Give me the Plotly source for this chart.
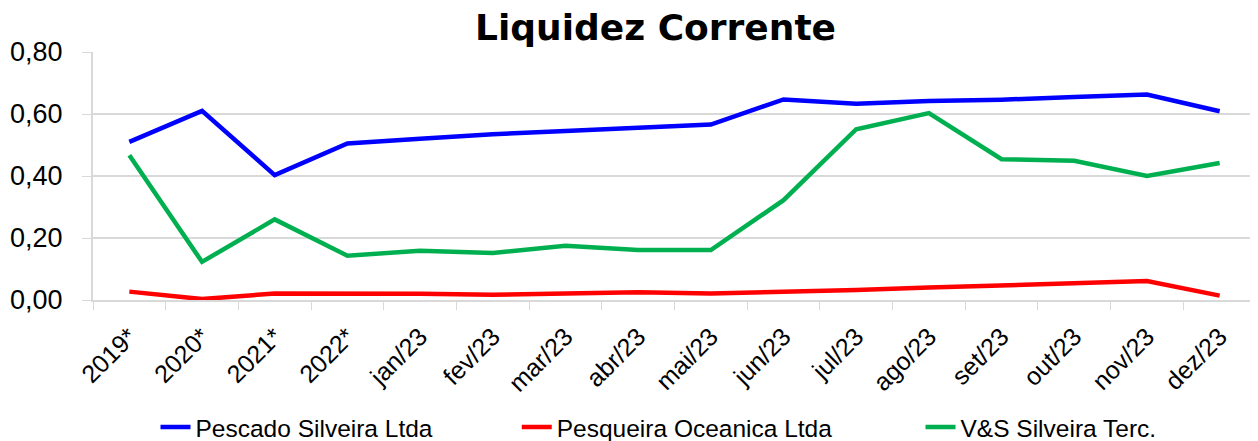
import plotly.graph_objects as go

categories = ["2019*", "2020*", "2021*", "2022*", "jan/23", "fev/23", "mar/23", "abr/23",
              "mai/23", "jun/23", "jul/23", "ago/23", "set/23", "out/23", "nov/23", "dez/23"]
pescado = [0.51, 0.61, 0.403, 0.505, 0.52, 0.535, 0.545, 0.555,
           0.566, 0.647, 0.633, 0.642, 0.646, 0.655, 0.663, 0.609]
pesqueira = [0.027, 0.003, 0.021, 0.021, 0.02, 0.017, 0.021, 0.025,
             0.021, 0.025, 0.032, 0.040, 0.048, 0.054, 0.061, 0.014]
vs_silveira = [0.467, 0.123, 0.26, 0.143, 0.159, 0.152, 0.175, 0.161,
               0.161, 0.322, 0.551, 0.603, 0.454, 0.449, 0.40, 0.442]
series_names = ["Pescado Silveira Ltda", "Pesqueira Oceanica Ltda", "V&S Silveira Terc."]
series_colors = ["#0000FF", "#FF0000", "#00B050"]
legend_ids = ["legend", "legend2", "legend3"]
legend_x = [0.118, 0.407, 0.730]

FONT = "Liberation Sans"
W, H = 1250, 433

fig = go.Figure()
for name, vals, col, lg in zip(series_names, [pescado, pesqueira, vs_silveira], series_colors, legend_ids):
    fig.add_trace(go.Scatter(x=categories, y=vals, name=name, mode="lines",
                             line=dict(color=col, width=4.5), legend=lg))

leg_common = dict(orientation="h", xref="container", yref="container",
                  xanchor="left", y=0.032, yanchor="middle",
                  font=dict(family=FONT, size=24.5, color="black"),
                  bgcolor="rgba(0,0,0,0)")
fig.update_layout(
    width=W, height=H,
    margin=dict(l=81, r=2, t=44, b=141),
    paper_bgcolor="white", plot_bgcolor="white",
    separators=",.",
    font=dict(family=FONT, size=22, color="black"),
    title=dict(text="<b>Liquidez Corrente</b>", x=0.518, xanchor="center",
               yref="container", y=0.955, yanchor="middle",
               font=dict(family="DejaVu Sans", size=36, color="black")),
    legend=dict(x=legend_x[0], **leg_common),
    legend2=dict(x=legend_x[1], **leg_common),
    legend3=dict(x=legend_x[2], **leg_common),
    showlegend=True,
)
fig.update_xaxes(type="category", range=[-0.5, 15.5], tickson="boundaries", showgrid=False,
                 showline=True, linecolor="#d9d9d9", linewidth=2,
                 ticks="outside", ticklen=8, tickcolor="#d9d9d9", tickwidth=1,
                 tickangle=-45, ticklabelstandoff=10, tickfont=dict(family=FONT, size=25))
fig.update_yaxes(range=[0, 0.8], dtick=0.2, tickformat=".2f",
                 showgrid=True, gridcolor="#d9d9d9", gridwidth=2,
                 showline=True, linecolor="#d9d9d9", linewidth=2,
                 ticks="outside", ticklen=9, tickcolor="#d9d9d9",
                 ticklabelstandoff=14,
                 zeroline=False, tickfont=dict(family=FONT, size=27))

fig.write_html("out.html")
